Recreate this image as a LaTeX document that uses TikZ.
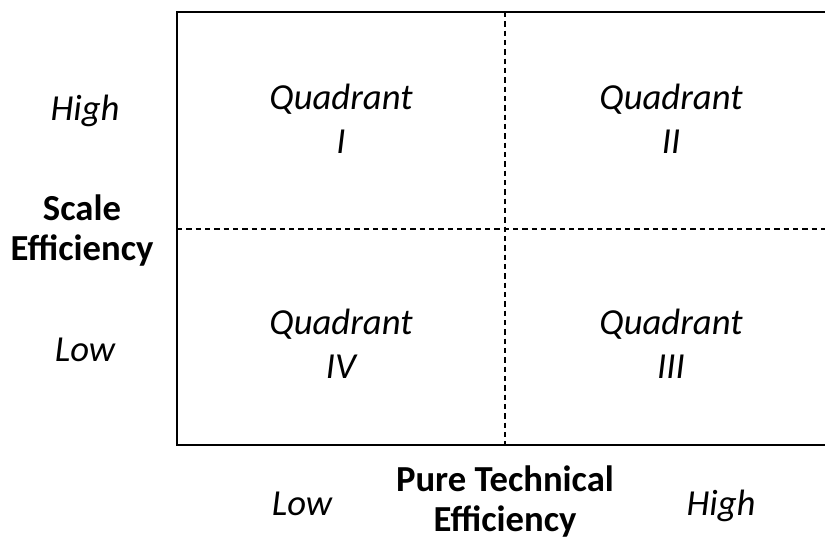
\documentclass[tikz,border=0pt]{standalone}
\usepackage{fontspec}
\setmainfont{Carlito}
\usetikzlibrary{positioning}
\tikzset{%
  frame/.style={line width=1.5pt},
  split/.style={dashed, line width=0.9pt, dash pattern=on 4pt off 3pt},
  quad/.style={align=center, font=\fontsize{27.5}{33}\selectfont\itshape},
  level/.style={anchor=base, font=\fontsize{27.5}{33}\selectfont\itshape},
  axis/.style={align=center, font=\fontsize{27.5}{30}\selectfont\bfseries}
}
\begin{document}
\begin{tikzpicture}[x=0.75pt, y=-0.75pt]
  \useasboundingbox (0,0) rectangle (825,542);
  \coordinate (tl) at (177,12);
  \coordinate (bl) at (177,445);
  \coordinate (tr) at (826,12);
  \coordinate (br) at (826,445);
  \coordinate (vt) at (505,12);
  \coordinate (vb) at (505,445);
  \coordinate (hl) at (177,229);
  \coordinate (hr) at (826,229);
  \draw[frame] (tr) -- (tl) -- (bl) -- (br);
  \draw[split] (vt) -- (vb);
  \draw[split] (hl) -- (hr);
  \node[quad] (q1) at (341,119) {Quadrant\\I};
  \node[quad] (q2) at (671,119) {Quadrant\\II};
  \node[quad] (q4) at (341,344) {Quadrant\\IV};
  \node[quad] (q3) at (671,344) {Quadrant\\III};
  \node[level] (yhigh) at (85,121) {High};
  \node[level] (ylow) at (85,361) {Low};
  \node[axis] (yaxis) at (82,231) {Scale\\Efficiency};
  \node[axis] (xaxis) at (505,502) {Pure Technical\\Efficiency};
  \node[level] (xlow) at (302,515) {Low};
  \node[level] (xhigh) at (721,515) {High};
\end{tikzpicture}
\end{document}
